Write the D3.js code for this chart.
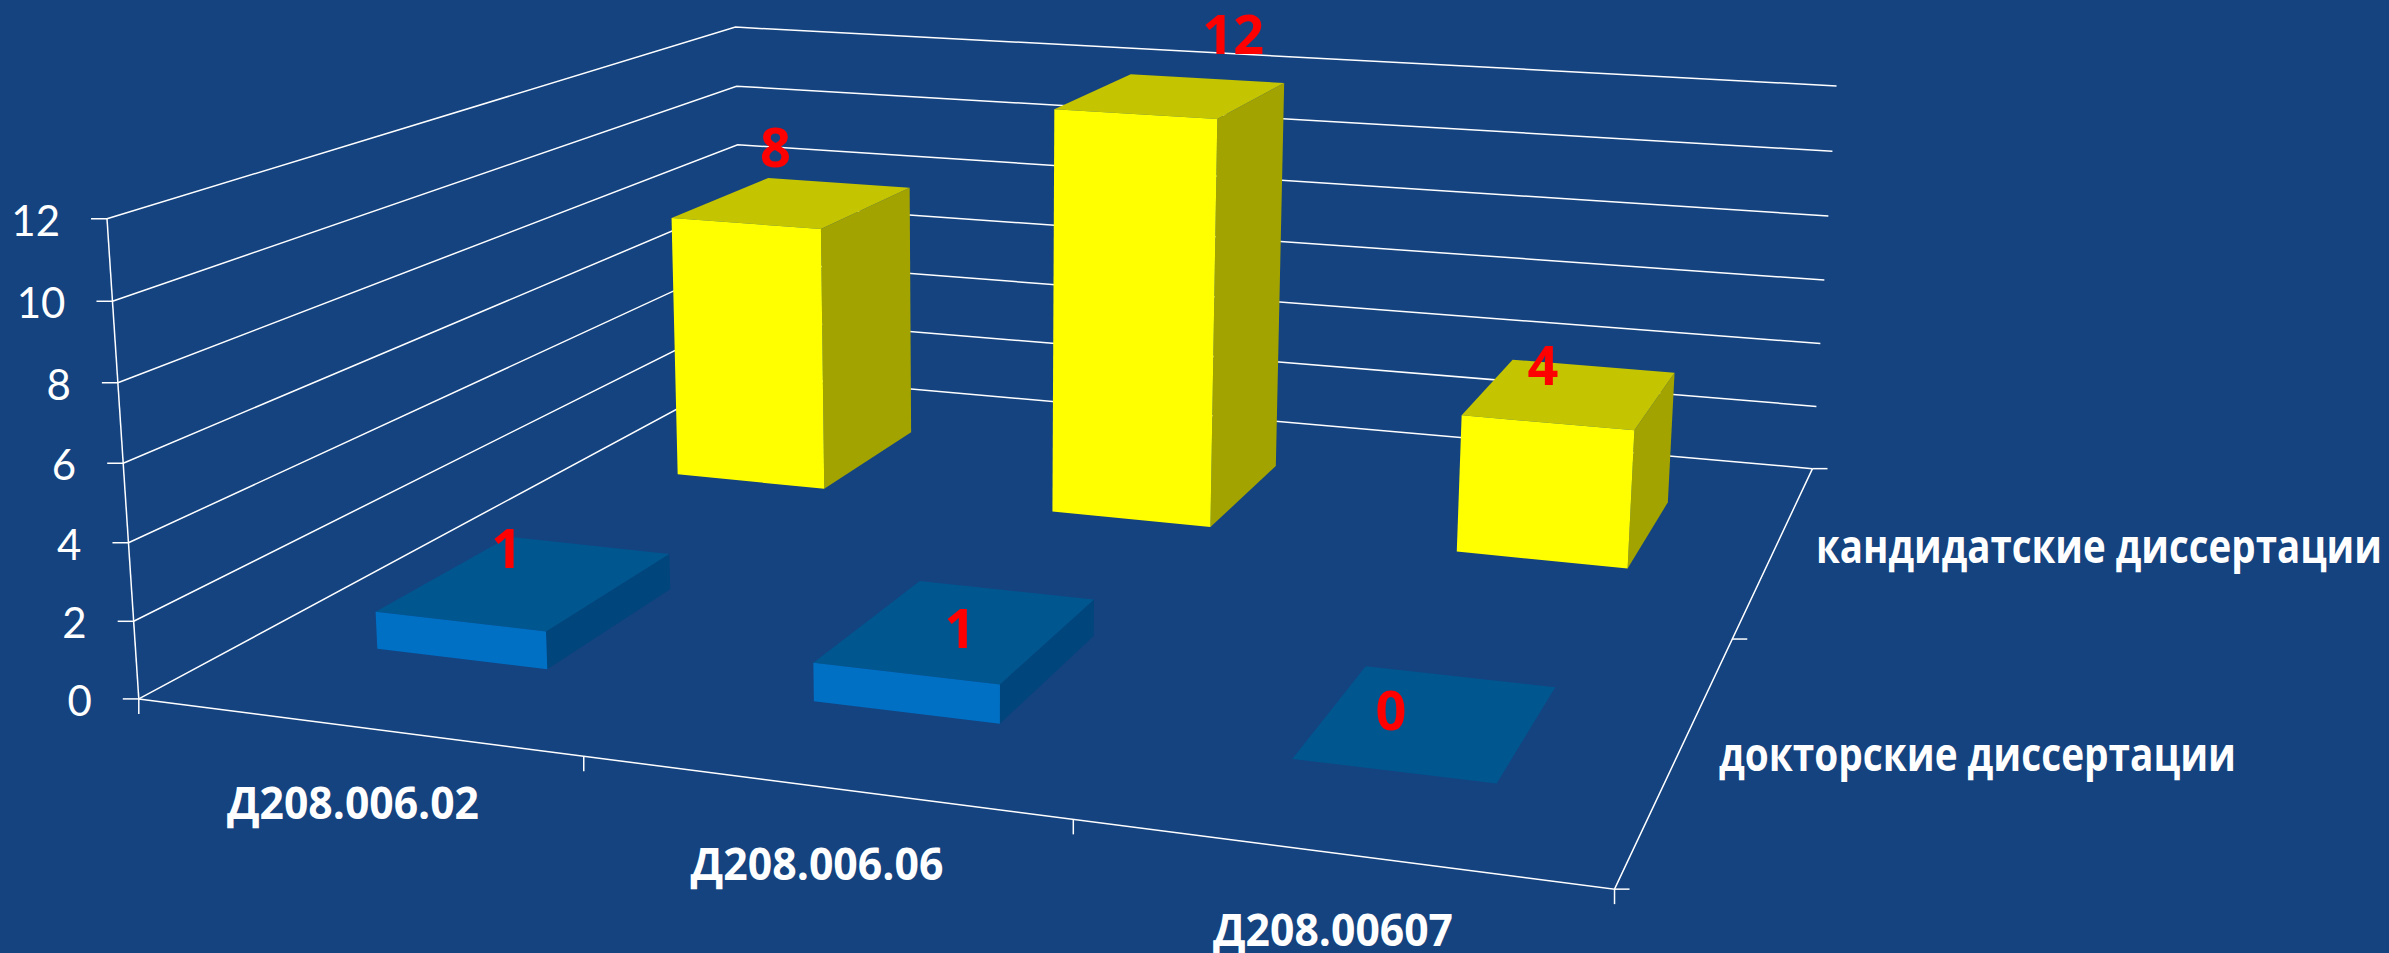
<!DOCTYPE html>
<html>
<head>
<meta charset="utf-8">
<script src="https://cdn.jsdelivr.net/npm/d3@7/dist/d3.min.js"></script>
<style>
html, body { margin: 0; padding: 0; background: #144380; overflow: hidden; }
text { font-family: "Open Sans", sans-serif; fill: #fff; }
</style>
</head>
<body>
<script>
// data
var categories = ["Д208.006.02", "Д208.006.06", "Д208.00607"];
var seriesNames = ["докторские диссертации", "кандидатские диссертации"];
var doctoral = [1, 1, 0];
var candidate = [8, 12, 4];
var yTicks = [0, 2, 4, 6, 8, 10, 12];

// layout of the labels, not data
var width = 2389, height = 953;
var catLabelPos = [[353, 819], [817, 880], [1333, 946]];
var catLabelWidth = [252, 253, 240];
var seriesLabelPos = [[1719, 771], [1816, 563]];
var seriesLabelWidth = [517, 566];
var doctoralLabelOffset = [[-20, -14], [2, 18], [-37, 8]];
var candidateLabelOffset = [[-18, -35], [61, -42], [-28, -8]];

var colors = {
	doctoral: { front: "#0070c4", top: "#00568f", side: "#00457b" },
	candidate: { front: "#ffff00", top: "#c4c400", side: "#a3a300" }
};

// 3d column scales, each one goes to 0..1 inside the chart box
var u = d3.scaleBand().domain(categories).range([-0.004, 1]).paddingInner(0.6).paddingOuter(0.3);
var v = d3.scaleBand().domain(seriesNames).range([0, 1]).paddingInner(0.6).paddingOuter(0.3);
var w = d3.scaleLinear().domain([0, 12]).range([0, 1]);

// perspective camera taken from the corners of the chart box
function project(p) {
	var d = 1 - 0.13665 * p[0] + 0.4038 * p[1] - 0.036 * p[2];
	return [
		(1255.1 * p[0] + 902.8 * p[1] - 35.65 * p[2] + 138.8) / d,
		(68.74 * p[0] - 173.8 * p[1] - 488 * p[2] + 698.9) / d
	];
}

var line = d3.line().x(function(d) { return project(d)[0]; }).y(function(d) { return project(d)[1]; });
function face(points) { return line(points) + "Z"; }

var svg = d3.select("body").append("svg")
	.attr("width", width)
	.attr("height", height)
	.style("display", "block");

svg.append("rect").attr("width", width).attr("height", height).attr("fill", "#144380");

var frame = svg.append("g").attr("fill", "none").attr("stroke", "#fff").attr("stroke-width", 1.5);

// gridlines on the two back walls
frame.selectAll(".grid")
	.data(yTicks)
	.enter().append("path")
		.attr("class", "grid")
		.attr("d", function(t) { return line([[0, 0, w(t)], [0, 1, w(t)], [1, 1, w(t)]]); });

// axis lines
frame.append("path").attr("d", line([[0, 0, 0], [0, 0, 1]]));
frame.append("path").attr("d", line([[0, 0, 0], [1, 0, 0], [1, 1, 0]]));

// ticks
frame.selectAll(".ytick")
	.data(yTicks)
	.enter().append("line")
		.attr("class", "ytick")
		.attr("x1", function(t) { return project([0, 0, w(t)])[0] - 16; })
		.attr("x2", function(t) { return project([0, 0, w(t)])[0]; })
		.attr("y1", function(t) { return project([0, 0, w(t)])[1]; })
		.attr("y2", function(t) { return project([0, 0, w(t)])[1]; });

var catEdges = d3.range(categories.length + 1).map(function(i) { return i / categories.length; });
frame.selectAll(".xtick")
	.data(catEdges)
	.enter().append("line")
		.attr("class", "xtick")
		.attr("x1", function(e) { return project([e, 0, 0])[0]; })
		.attr("x2", function(e) { return project([e, 0, 0])[0]; })
		.attr("y1", function(e) { return project([e, 0, 0])[1]; })
		.attr("y2", function(e) { return project([e, 0, 0])[1] + 15; });

var depthEdges = d3.range(seriesNames.length + 1).map(function(i) { return i / seriesNames.length; });
frame.selectAll(".ztick")
	.data(depthEdges)
	.enter().append("line")
		.attr("class", "ztick")
		.attr("x1", function(e) { return project([1, e, 0])[0]; })
		.attr("x2", function(e) { return project([1, e, 0])[0] + 15; })
		.attr("y1", function(e) { return project([1, e, 0])[1]; })
		.attr("y2", function(e) { return project([1, e, 0])[1]; });

// y tick labels
svg.selectAll(".ylabel")
	.data(yTicks)
	.enter().append("text")
		.attr("class", "ylabel")
		.attr("x", function(t) { return project([0, 0, w(t)])[0] - 47; })
		.attr("y", function(t) { return project([0, 0, w(t)])[1] + 17; })
		.attr("text-anchor", "end")
		.style("font-family", "Lato, 'Open Sans', sans-serif")
		.style("font-size", "42px")
		.text(function(t) { return t; });

// back row goes first so the front row covers it
function drawSeries(name, values, color, offsets) {
	var bars = categories.map(function(c, i) {
		var x0 = u(c), x1 = x0 + u.bandwidth();
		var y0 = v(name), y1 = y0 + v.bandwidth();
		return { x0: x0, x1: x1, y0: y0, y1: y1, h: w(values[i]), value: values[i], offset: offsets[i] };
	});

	var g = svg.append("g");
	g.selectAll(".side")
		.data(bars)
		.enter().append("path")
			.attr("fill", color.side)
			.attr("d", function(b) { return face([[b.x1, b.y0, 0], [b.x1, b.y1, 0], [b.x1, b.y1, b.h], [b.x1, b.y0, b.h]]); });
	g.selectAll(".top")
		.data(bars)
		.enter().append("path")
			.attr("fill", color.top)
			.attr("d", function(b) { return face([[b.x0, b.y0, b.h], [b.x1, b.y0, b.h], [b.x1, b.y1, b.h], [b.x0, b.y1, b.h]]); });
	g.selectAll(".front")
		.data(bars)
		.enter().append("path")
			.attr("fill", color.front)
			.attr("d", function(b) { return face([[b.x0, b.y0, 0], [b.x1, b.y0, 0], [b.x1, b.y0, b.h], [b.x0, b.y0, b.h]]); });

	return bars;
}

var backBars = drawSeries(seriesNames[1], candidate, colors.candidate, candidateLabelOffset);
var frontBars = drawSeries(seriesNames[0], doctoral, colors.doctoral, doctoralLabelOffset);

// value labels sit above every bar
svg.selectAll(".value")
	.data(backBars.concat(frontBars))
	.enter().append("text")
		.attr("class", "value")
		.attr("x", function(b) { return project([(b.x0 + b.x1) / 2, (b.y0 + b.y1) / 2, b.h])[0] + b.offset[0]; })
		.attr("y", function(b) { return project([(b.x0 + b.x1) / 2, (b.y0 + b.y1) / 2, b.h])[1] + b.offset[1]; })
		.attr("text-anchor", "middle")
		.style("fill", "#ff0000")
		.style("font-size", "54px")
		.style("font-weight", "700")
		.text(function(b) { return b.value; });

// category labels
svg.selectAll(".cat")
	.data(categories)
	.enter().append("text")
		.attr("class", "cat")
		.attr("x", function(d, i) { return catLabelPos[i][0]; })
		.attr("y", function(d, i) { return catLabelPos[i][1]; })
		.attr("text-anchor", "middle")
		.attr("textLength", function(d, i) { return catLabelWidth[i]; })
		.attr("lengthAdjust", "spacingAndGlyphs")
		.style("font-size", "44px")
		.style("font-weight", "700")
		.text(function(d) { return d; });

// series labels
svg.selectAll(".series")
	.data(seriesNames)
	.enter().append("text")
		.attr("class", "series")
		.attr("x", function(d, i) { return seriesLabelPos[i][0]; })
		.attr("y", function(d, i) { return seriesLabelPos[i][1]; })
		.attr("textLength", function(d, i) { return seriesLabelWidth[i]; })
		.attr("lengthAdjust", "spacingAndGlyphs")
		.style("font-size", "46px")
		.style("font-weight", "700")
		.text(function(d) { return d; });
</script>
</body>
</html>
